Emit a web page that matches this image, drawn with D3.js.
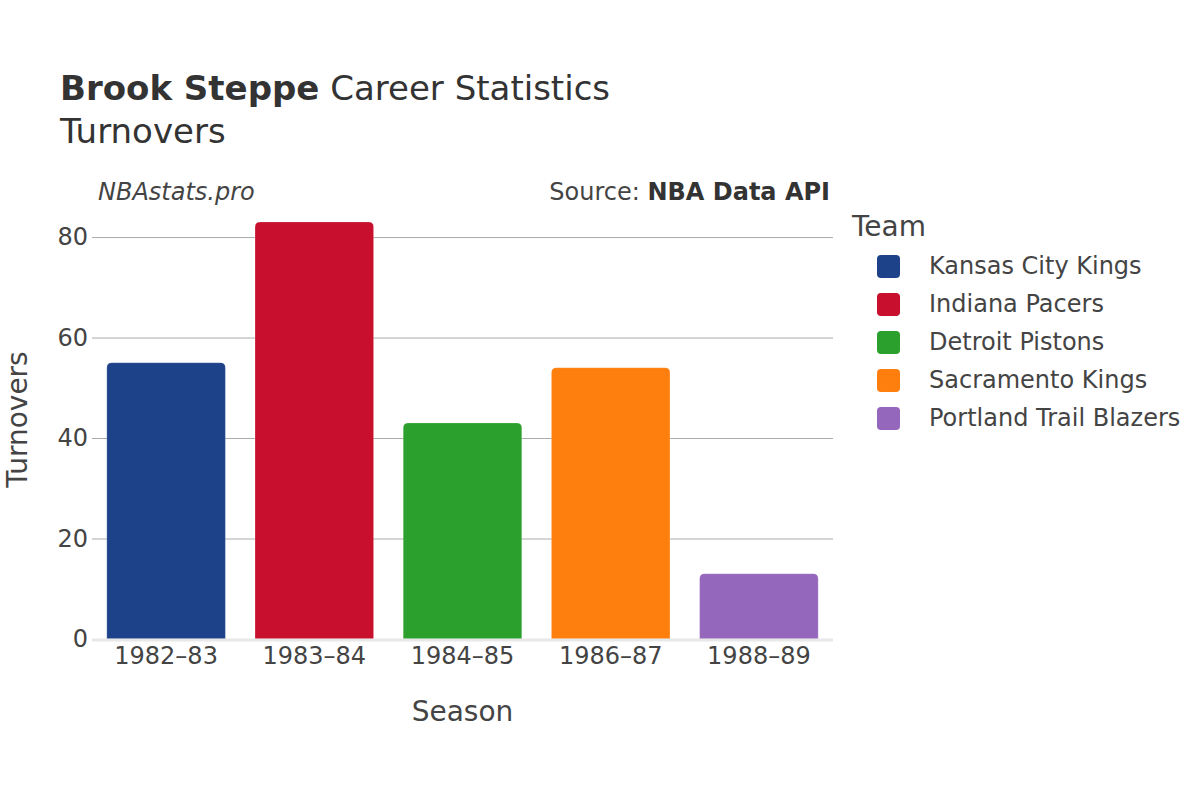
<!DOCTYPE html>
<html>
<head>
<meta charset="utf-8">
<script src="https://cdn.jsdelivr.net/npm/d3@7"></script>
<style>
  body { margin: 0; background: #fff; }
  svg { font-family: "DejaVu Sans", sans-serif; }
</style>
</head>
<body>
<div id="chart"></div>
<script>
// chart data
const seasons = ["1982–83", "1983–84", "1984–85", "1986–87", "1988–89"];
const teams = ["Kansas City Kings", "Indiana Pacers", "Detroit Pistons", "Sacramento Kings", "Portland Trail Blazers"];
const turnovers = [55, 83, 43, 54, 13];
const teamColors = ["#1d428a", "#c8102e", "#2ca02c", "#ff7f0e", "#9467bd"];
const yTicks = [0, 20, 40, 60, 80];

const width = 1200;
const height = 800;
const plot = { left: 92, right: 833, top: 200, bottom: 639 };
const font = "DejaVu Sans, sans-serif";

const svg = d3.select("#chart")
	.append("svg")
	.attr("width", width)
	.attr("height", height);

/*
Scales
*/
const x = d3.scaleBand()
	.domain(seasons)
	.range([plot.left, plot.right])
	.paddingInner(0.2)
	.paddingOuter(0.1);
const y = d3.scaleLinear()
	.domain([0, d3.max(turnovers) * 1.0527])
	.range([plot.bottom, plot.top]);
const color = d3.scaleOrdinal().domain(teams).range(teamColors);

/*
Grid and y axis
*/
const yAxis = svg.append("g")
	.attr("transform", `translate(${plot.left}, 0)`)
	.call(d3.axisLeft(y).tickValues(yTicks).tickSize(-(plot.right - plot.left)).tickPadding(4))
	.attr("font-family", font);
yAxis.select(".domain").remove();
yAxis.selectAll(".tick line")
	.attr("stroke", (d) => d === 0 ? "none" : "#aaa")
	.attr("stroke-width", 1);
yAxis.selectAll(".tick text")
	.attr("fill", "#444")
	.style("font-size", "24px");

/*
Bars with rounded tops
*/
const r = 5;
function barPath(d, i) {
	const x0 = x(seasons[i]);
	const w = x.bandwidth();
	const y0 = y(d);
	const yb = y(0);
	return `M${x0},${yb} L${x0},${y0 + r} Q${x0},${y0} ${x0 + r},${y0} ` +
		`L${x0 + w - r},${y0} Q${x0 + w},${y0} ${x0 + w},${y0 + r} L${x0 + w},${yb} Z`;
}
svg.append("g")
	.selectAll("path")
	.data(turnovers)
	.enter()
	.append("path")
	.attr("d", barPath)
	.attr("fill", (d, i) => color(teams[i]))
	.attr("stroke", "#fff")
	.attr("stroke-opacity", 0.4)
	.attr("stroke-width", 0.5);

// zero line
svg.append("line")
	.attr("x1", plot.left)
	.attr("x2", plot.right)
	.attr("y1", y(0) + 1)
	.attr("y2", y(0) + 1)
	.attr("stroke", "#e8e8e8")
	.attr("stroke-width", 3);

/*
X axis
*/
const xAxis = svg.append("g")
	.attr("transform", `translate(0, ${plot.bottom})`)
	.call(d3.axisBottom(x).tickSize(0).tickPadding(8))
	.attr("font-family", font);
xAxis.select(".domain").remove();
xAxis.selectAll(".tick text")
	.attr("fill", "#444")
	.attr("dy", "0.71em")
	.style("font-size", "24px");

/*
Titles and labels
*/
const title = svg.append("text")
	.attr("x", 60)
	.attr("y", 100)
	.attr("fill", "#333")
	.style("font-size", "34px");
title.append("tspan").attr("font-weight", "bold").text("Brook Steppe");
title.append("tspan").text(" Career Statistics");
svg.append("text")
	.attr("x", 60)
	.attr("y", 143)
	.attr("fill", "#333")
	.style("font-size", "34px")
	.text("Turnovers");

svg.append("text")
	.attr("x", 98)
	.attr("y", 200)
	.attr("fill", "#444")
	.attr("font-style", "italic")
	.style("font-size", "24px")
	.text("NBAstats.pro");
const source = svg.append("text")
	.attr("x", 830)
	.attr("y", 200)
	.attr("text-anchor", "end")
	.attr("fill", "#444")
	.style("font-size", "24px");
source.append("tspan").text("Source: ");
source.append("tspan").attr("font-weight", "bold").attr("fill", "#333").text("NBA Data API");

svg.append("text")
	.attr("x", (plot.left + plot.right) / 2)
	.attr("y", 721)
	.attr("text-anchor", "middle")
	.attr("fill", "#444")
	.style("font-size", "28px")
	.text("Season");
svg.append("text")
	.attr("transform", `translate(27, ${(plot.top + plot.bottom) / 2}) rotate(-90)`)
	.attr("text-anchor", "middle")
	.attr("fill", "#444")
	.style("font-size", "28px")
	.text("Turnovers");

/*
Legend
*/
svg.append("text")
	.attr("x", 852)
	.attr("y", 236)
	.attr("fill", "#444")
	.style("font-size", "28px")
	.text("Team");
const legend = svg.append("g")
	.selectAll("g")
	.data(teams)
	.enter()
	.append("g")
	.attr("transform", (d, i) => `translate(877, ${266 + i * 38})`);
legend.append("rect")
	.attr("x", 0)
	.attr("y", -11)
	.attr("width", 23)
	.attr("height", 23)
	.attr("rx", 4)
	.attr("fill", (d) => color(d));
legend.append("text")
	.attr("x", 52)
	.attr("y", 0)
	.attr("dy", "0.35em")
	.attr("fill", "#444")
	.style("font-size", "24px")
	.text((d) => d);
</script>
</body>
</html>
